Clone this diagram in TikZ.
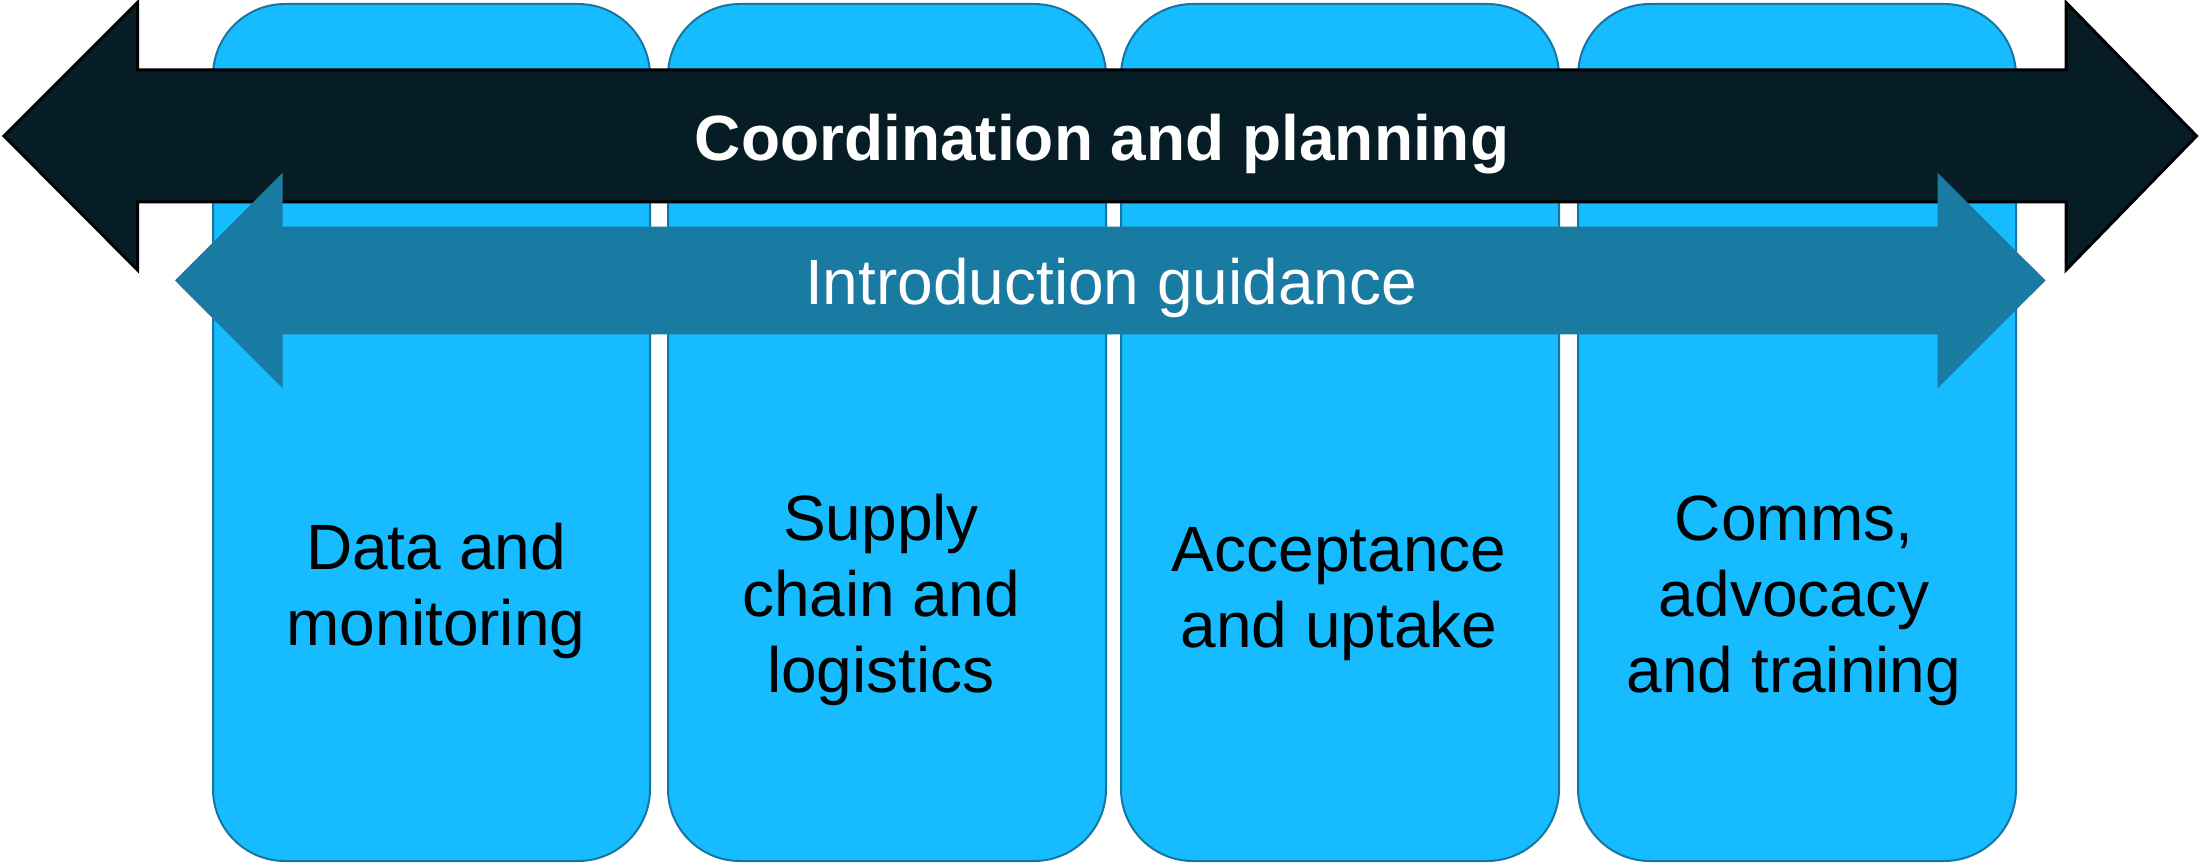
\documentclass[tikz,border=0pt]{standalone}
\usepackage{fontspec}
\setmainfont{Liberation Sans}
\definecolor{boxblue}{RGB}{23,187,255}
\definecolor{boxedge}{RGB}{22,118,160}
\definecolor{guidecol}{RGB}{25,123,161}
\definecolor{coordcol}{RGB}{6,29,38}
\begin{document}
\begin{tikzpicture}[x=0.5pt,y=-0.5pt,
  pillar/.style={fill=boxblue, draw=boxedge, line width=1pt, rounded corners=36pt},
  bigarrow/.style={fill=coordcol, draw=black, line width=1.5pt, line join=miter},
  guidearrow/.style={fill=guidecol},
  lbl/.style={font=\fontsize{32}{38}\selectfont, align=center, anchor=base, inner sep=0pt, text=black},
  arrowlbl/.style={font=\fontsize{32}{38}\selectfont, anchor=base, inner sep=0pt, text=white}]
\useasboundingbox (0,0) rectangle (2199,865);
% pillars
\draw[pillar] (213,4) rectangle (650,861);
\draw[pillar] (668,4) rectangle (1106,861);
\draw[pillar] (1121,4) rectangle (1559,861);
\draw[pillar] (1578,4) rectangle (2016,861);
% coordination arrow
\draw[bigarrow] (4,136) -- (137.5,2.5) -- (137.5,70) -- (2066,70) -- (2066,2.5) -- (2196.5,136)
  -- (2066,270) -- (2066,202) -- (137.5,202) -- (137.5,270) -- cycle;
% guidance arrow
\fill[guidearrow] (175,280.5) -- (282.6,172.7) -- (282.6,226.7) -- (1937.5,226.7) -- (1937.5,172.7)
  -- (2045.5,280.5) -- (1937.5,388.3) -- (1937.5,334.3) -- (282.6,334.3) -- (282.6,388.3) -- cycle;
% labels
\node[arrowlbl, font=\fontsize{32}{38}\selectfont\bfseries] (coord) at (1102,161) {Coordination and planning};
\node[arrowlbl] (guide) at (1111,305) {Introduction guidance};
\node[lbl] (data) at (436,645) {Data and\\monitoring};
\node[lbl] (supply) at (881,692) {Supply\\chain and\\logistics};
\node[lbl] (accept) at (1339,647) {Acceptance\\and uptake};
\node[lbl] (comms) at (1794,692) {Comms,\\advocacy\\and training};
\end{tikzpicture}
\end{document}
